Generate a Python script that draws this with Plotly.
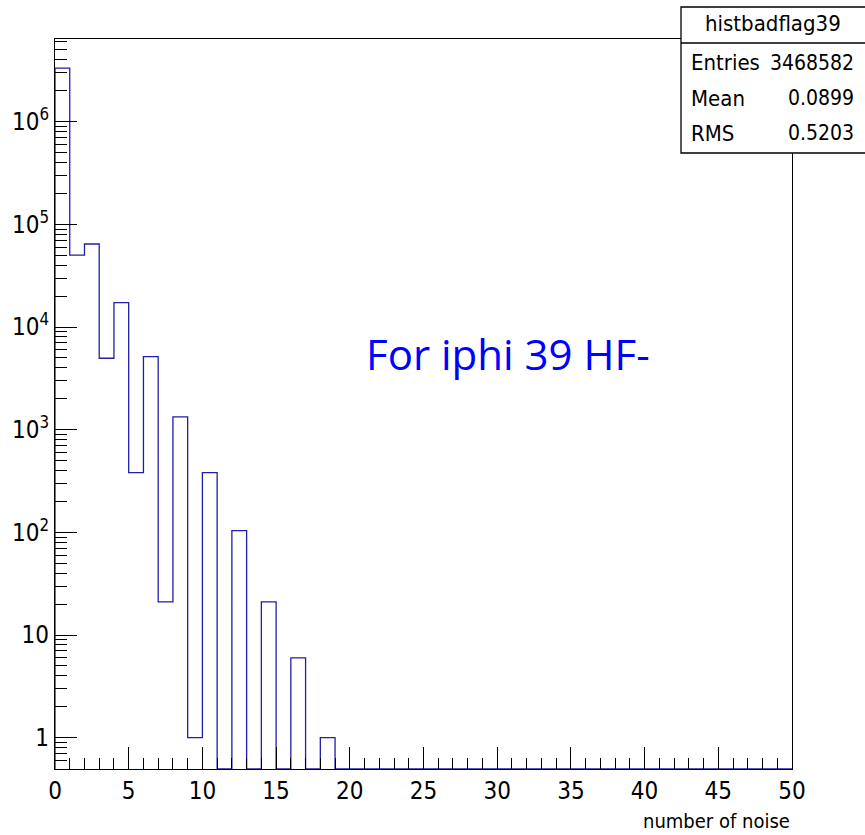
import plotly.graph_objects as go

# Histogram contents: 50 unit-width bins over [0, 50)
bin_edges = list(range(0, 51))
counts = [3324476, 50200, 64300, 4960, 17260, 381, 5140, 21, 1330, 1,
          381, 0, 104, 0, 21, 0, 6, 0, 1, 0,
          0, 0, 0, 0, 0, 0, 0, 0, 0, 0,
          0, 0, 0, 0, 0, 0, 0, 0, 0, 0,
          0, 0, 0, 0, 0, 0, 0, 0, 0, 0]

hist_name = "histbadflag39"
stat_labels = ["Entries", "Mean", "RMS"]
stat_values = ["3468582", "0.0899", "0.5203"]

x_tick_vals = [0, 5, 10, 15, 20, 25, 30, 35, 40, 45, 50]
y_tick_vals = [1, 10, 100, 1000, 10000, 100000, 1000000]
y_tick_text = ["1", "10", "10<sup>2</sup>", "10<sup>3</sup>", "10<sup>4</sup>",
               "10<sup>5</sup>", "10<sup>6</sup>"]

W, H = 865, 835
ML, MR, MT, MB = 55, 73, 39, 66
Y_LO, Y_HI = -0.305, 6.805  # log10 range of the frame
y_floor = 10 ** Y_LO

# Step outline; empty bins drop to the frame floor as in a log-scale histogram
step_x = [bin_edges[0]] + bin_edges[:-1] + [bin_edges[-1]]
step_y = [y_floor] + [c if c > 0 else y_floor for c in counts] + [
    counts[-1] if counts[-1] > 0 else y_floor]

FONT = "DejaVu Sans Condensed, Roboto Condensed, Liberation Sans Narrow, Roboto, sans-serif"

fig = go.Figure()
fig.add_trace(go.Scatter(
    x=step_x, y=step_y, mode="lines", line_shape="hv",
    line=dict(color="#1f1fa8", width=1.3), hoverinfo="skip", showlegend=False,
))

minor_y = [m * 10 ** d for d in range(-1, 7) for m in range(2, 10)
           if 10 ** Y_LO <= m * 10 ** d <= 10 ** Y_HI]

fig.update_xaxes(
    range=[0, 50], showgrid=False, zeroline=False, automargin=False,
    showline=True, linecolor="black", linewidth=1.3, mirror=True,
    ticks="inside", ticklen=22, tickwidth=1.2, tickcolor="black",
    tickvals=x_tick_vals,
    minor=dict(ticks="inside", ticklen=11, tickwidth=1.2, tickcolor="black",
               tickvals=[v for v in range(1, 50) if v % 5]),
    tickfont=dict(family=FONT, size=24, color="black"),
)
fig.update_yaxes(
    type="log", range=[Y_LO, Y_HI], showgrid=False, zeroline=False,
    automargin=False,
    showline=True, linecolor="black", linewidth=1.3, mirror=True,
    ticks="inside", ticklen=22, tickwidth=1.2, tickcolor="black",
    tickvals=y_tick_vals, ticktext=y_tick_text,
    minor=dict(ticks="inside", ticklen=12, tickwidth=1.2, tickcolor="black",
               tickvals=minor_y),
    tickfont=dict(family=FONT, size=24, color="black"),
)


def px_x(p):
    return (p - ML) / (W - ML - MR)


def px_y(p):
    return 1 - (p - MT) / (H - MT - MB)


# Statistics box
bx0, bx1, by0, by1, bsep = 681, 875, 7, 153, 43
fig.add_shape(type="rect", xref="paper", yref="paper",
              x0=px_x(bx0), x1=px_x(bx1), y0=px_y(by1), y1=px_y(by0),
              line=dict(color="black", width=1.3), fillcolor="white",
              layer="above")
fig.add_shape(type="line", xref="paper", yref="paper",
              x0=px_x(bx0), x1=px_x(bx1), y0=px_y(bsep), y1=px_y(bsep),
              line=dict(color="black", width=1.3), layer="above")
fig.add_annotation(xref="paper", yref="paper", x=px_x(773), y=px_y(24),
                   text=hist_name, showarrow=False, xanchor="center",
                   yanchor="middle", font=dict(family=FONT, size=22, color="black"))
row_y = [63, 98, 133]
for lab, val, ry in zip(stat_labels, stat_values, row_y):
    fig.add_annotation(xref="paper", yref="paper", x=px_x(689), y=px_y(ry),
                       text=lab, showarrow=False, xanchor="left",
                       yanchor="middle", font=dict(family=FONT, size=22, color="black"))
    fig.add_annotation(xref="paper", yref="paper", x=px_x(856), y=px_y(ry),
                       text=val, showarrow=False, xanchor="right",
                       yanchor="middle", font=dict(family=FONT, size=21, color="black"))

# Axis title, right-aligned under the axis end
fig.add_annotation(xref="paper", yref="paper", x=px_x(792), y=px_y(821),
                   text="number of noise", showarrow=False, xanchor="right",
                   yanchor="middle", font=dict(family=FONT, size=20, color="black"))

# Caption inside the frame
fig.add_annotation(xref="paper", yref="paper", x=px_x(508), y=px_y(354),
                   text="For iphi 39 HF-", showarrow=False, xanchor="center",
                   yanchor="middle",
                   font=dict(family="Open Sans, Noto Sans, sans-serif", size=42, color="#0000ff"))

fig.update_layout(
    width=W, height=H, autosize=False,
    margin=dict(l=ML, r=MR, t=MT, b=MB, pad=0, autoexpand=False),
    paper_bgcolor="white", plot_bgcolor="white",
    showlegend=False,
)

fig.write_html("out.html")
